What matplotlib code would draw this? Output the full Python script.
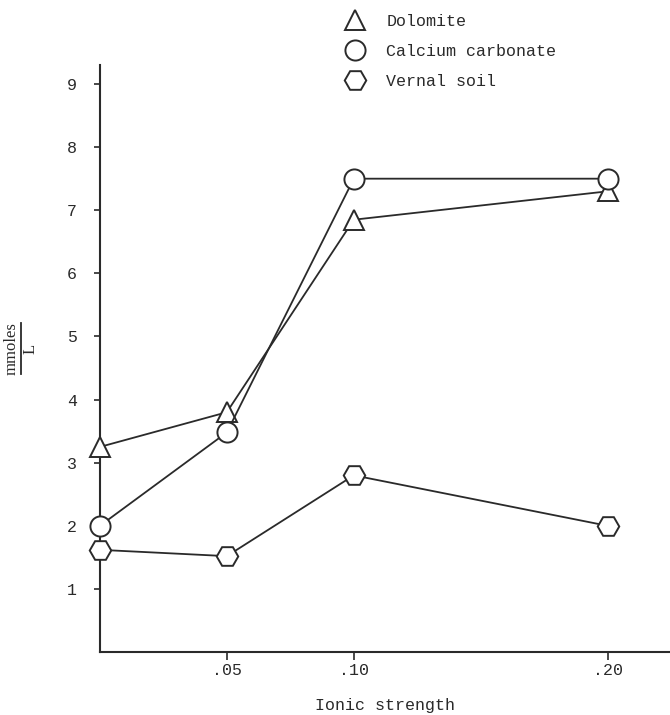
import numpy as np
import matplotlib
matplotlib.use('Agg')
import matplotlib.pyplot as plt
from matplotlib.lines import Line2D

plt.rcParams['font.family'] = ['Liberation Mono', 'DejaVu Sans Mono']

# ionic strength (first point sits on the y axis)
ionic = [0.0, 0.05, 0.10, 0.20]
dolomite = [3.25, 3.8, 6.85, 7.3]
calcium_carbonate = [2.0, 3.48, 7.5, 7.5]
vernal_soil = [1.62, 1.52, 2.8, 2.0]

series_names = ['Dolomite', 'Calcium carbonate', 'Vernal soil']
series_markers = ['^', 'o', 'H']
marker_sizes = [14, 14.5, 15.5]

xticks = [0.05, 0.10, 0.20]
xticklabels = ['.05', '.10', '.20']
yticks = [1, 2, 3, 4, 5, 6, 7, 8, 9]

ink = '#2a2a2a'

fig = plt.figure(figsize=(6.7, 7.15), dpi=100)
ax = fig.add_axes([0.149, 0.088, 0.851, 0.821])

for vals, mk, ms in zip([dolomite, calcium_carbonate, vernal_soil], series_markers, marker_sizes):
  ax.plot(ionic, vals, color=ink, lw=1.3, marker=mk, ms=ms,
          mfc='white', mec=ink, mew=1.4, clip_on=False, zorder=3)

ax.set_xlim(0, 0.2245)
ax.set_ylim(0, 9.3)
ax.set_xticks(xticks)
ax.set_xticklabels(xticklabels)
ax.set_yticks(yticks)
ax.tick_params(axis='x', direction='out', length=6, width=1.2, colors=ink,
               labelsize=12, pad=2)
ax.tick_params(axis='y', direction='out', length=4.5, width=1.2, colors=ink,
               labelsize=12, pad=12)
for s in ['top', 'right']:
  ax.spines[s].set_visible(False)
for s in ['left', 'bottom']:
  ax.spines[s].set_color(ink)
  ax.spines[s].set_linewidth(1.5)

ax.set_xlabel('Ionic strength', fontsize=12, color=ink, labelpad=14)

# y label as a fraction mmoles / L, rotated
fig.text(0.018, 0.512, 'mmoles', rotation=90, fontsize=12, color=ink,
         ha='center', va='center', family='Liberation Serif')
fig.text(0.045, 0.512, 'L', rotation=90, fontsize=12, color=ink,
         ha='center', va='center', family='Liberation Serif')
fig.add_artist(Line2D([0.031, 0.031], [0.477, 0.548], color=ink, lw=1.3,
                      transform=fig.transFigure))

handles = [Line2D([], [], ls='none', marker=m, ms=ms, mfc='white', mec=ink, mew=1.4)
           for m, ms in zip(series_markers, marker_sizes)]
fig.legend(handles, series_names, loc='upper left', bbox_to_anchor=(0.518, 0.981),
           frameon=False, fontsize=12, labelspacing=0.9, handlelength=1.0,
           handletextpad=1.35, borderpad=0, borderaxespad=0, labelcolor=ink)

plt.savefig('out.png', dpi=100)
